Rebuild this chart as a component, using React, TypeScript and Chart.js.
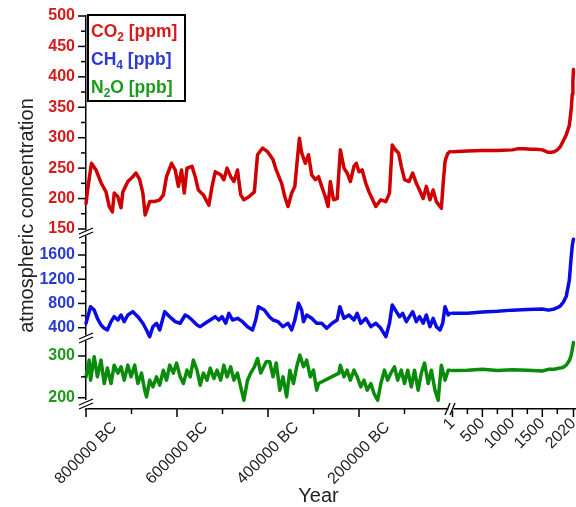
import React, { useEffect, useRef } from "react";
import { Chart, registerables } from "chart.js";

Chart.register(...registerables);

const FONT = "Arial, 'Liberation Sans', Helvetica, sans-serif";
const RED = "#d00000";
const BLUE = "#0a0ae6";
const GREEN = "#0a8c0a";
const RED_TXT = "#d51a1a";
const BLUE_TXT = "#2a3ad6";
const GREEN_TXT = "#1b9a1b";

// ---------- ice-core period (years, negative = BC) ----------
const CO2_ICE_YR = [-800000, -797000, -788000, -778000, -767000, -756000, -749000, -742000, -738000, -730000, -723000, -719000, -708000, -697000, -690000, -682000, -675000, -670000, -660000, -649000, -638000, -630000, -623000, -612000, -604000, -597000, -590000, -584000, -578000, -567000, -560000, -553000, -542000, -530000, -523000, -516000, -504000, -497000, -490000, -482000, -475000, -467000, -460000, -453000, -442000, -430000, -423000, -412000, -401000, -389000, -382000, -370000, -363000, -356000, -348000, -341000, -337000, -331000, -326000, -318000, -311000, -304000, -296000, -289000, -282000, -274000, -268000, -263000, -256000, -248000, -241000, -233000, -226000, -219000, -211000, -206000, -200000, -193000, -185000, -178000, -170000, -163000, -152000, -141000, -133000, -127000, -120000, -113000, -107000, -100000, -90000, -82000, -74000, -67000, -59000, -52000, -44000, -37000, -30000, -19000, -15000, -11000, -9000, -5000, 0];
const CO2_ICE_PPM = [192, 211, 258, 247, 226, 211, 187, 178, 209, 203, 185, 211, 228, 236, 242, 231, 209, 173, 195, 195, 198, 206, 236, 258, 247, 220, 247, 209, 250, 253, 236, 214, 206, 189, 220, 244, 239, 231, 250, 236, 228, 247, 206, 198, 203, 211, 272, 283, 277, 264, 247, 225, 203, 187, 209, 220, 253, 299, 275, 258, 272, 239, 231, 236, 220, 203, 187, 228, 198, 200, 280, 250, 242, 228, 253, 258, 244, 247, 225, 211, 198, 187, 198, 195, 209, 288, 280, 275, 253, 231, 228, 242, 225, 214, 200, 220, 198, 214, 195, 184, 225, 260, 266, 274, 277];

const CH4_ICE_YR = [-800000, -790000, -782000, -775000, -767000, -760000, -753000, -745000, -738000, -730000, -723000, -716000, -708000, -697000, -686000, -675000, -667000, -660000, -653000, -645000, -638000, -627000, -616000, -604000, -593000, -582000, -575000, -567000, -556000, -549000, -538000, -527000, -516000, -508000, -501000, -493000, -486000, -478000, -467000, -456000, -445000, -434000, -427000, -421000, -408000, -397000, -389000, -378000, -367000, -356000, -348000, -341000, -333000, -326000, -322000, -315000, -304000, -293000, -282000, -271000, -259000, -248000, -242000, -233000, -222000, -211000, -204000, -196000, -185000, -174000, -163000, -152000, -141000, -133000, -127000, -118000, -111000, -104000, -96000, -89000, -82000, -74000, -67000, -59000, -52000, -44000, -37000, -30000, -22000, -16000, -11000, -4000, 0];
const CH4_ICE_PPB = [473, 747, 692, 555, 445, 390, 362, 500, 582, 527, 610, 500, 610, 665, 582, 473, 362, 252, 417, 473, 362, 665, 582, 500, 473, 610, 582, 527, 445, 417, 473, 527, 582, 527, 582, 473, 637, 527, 555, 500, 417, 362, 527, 747, 692, 582, 527, 500, 417, 473, 362, 527, 803, 692, 500, 610, 555, 473, 473, 390, 473, 527, 747, 555, 610, 527, 637, 473, 555, 417, 473, 390, 252, 473, 775, 665, 582, 637, 500, 582, 665, 500, 582, 473, 610, 417, 555, 417, 362, 473, 747, 610, 637];

const N2O_ICE_YR = [-800000, -793000, -790000, -782000, -775000, -767000, -760000, -753000, -745000, -738000, -730000, -723000, -716000, -708000, -701000, -693000, -686000, -678000, -671000, -667000, -660000, -653000, -645000, -638000, -630000, -623000, -616000, -608000, -601000, -593000, -586000, -578000, -571000, -564000, -556000, -549000, -542000, -534000, -527000, -519000, -512000, -504000, -497000, -490000, -482000, -475000, -467000, -460000, -453000, -445000, -438000, -430000, -423000, -416000, -404000, -396000, -389000, -382000, -374000, -367000, -359000, -352000, -344000, -337000, -330000, -322000, -315000, -307000, -300000, -293000, -289000, -244000, -241000, -233000, -226000, -219000, -211000, -204000, -196000, -189000, -182000, -174000, -167000, -159000, -152000, -144000, -137000, -130000, -122000, -115000, -107000, -100000, -93000, -85000, -78000, -70000, -63000, -56000, -48000, -41000, -33000, -26000, -19000, -11000, -4000, 0];
const N2O_ICE_PPB = [250, 290, 242, 298, 250, 290, 234, 271, 234, 278, 259, 274, 242, 278, 250, 278, 234, 259, 218, 202, 242, 226, 250, 230, 266, 242, 278, 259, 283, 250, 234, 266, 250, 290, 266, 230, 259, 242, 271, 246, 266, 242, 278, 250, 274, 242, 259, 226, 194, 242, 259, 274, 294, 259, 286, 286, 250, 283, 218, 250, 202, 266, 234, 274, 302, 274, 290, 250, 266, 218, 234, 259, 278, 250, 266, 242, 266, 250, 226, 242, 218, 234, 210, 194, 234, 266, 242, 259, 274, 242, 266, 234, 266, 226, 266, 218, 259, 283, 234, 266, 218, 194, 278, 242, 266, 266];

// ---------- common era (years AD) ----------
const CO2_CE_YR = [1, 250, 500, 750, 1000, 1100, 1200, 1300, 1400, 1500, 1600, 1650, 1700, 1750, 1800, 1850, 1900, 1950, 1980, 2000, 2010, 2019];
const CO2_CE_PPM = [277, 278, 279, 279, 280, 282, 282, 281, 281, 280, 276, 276, 277, 280, 285, 295, 305, 320, 345, 372, 392, 412];
const CH4_CE_YR = [1, 250, 500, 750, 1000, 1250, 1500, 1600, 1700, 1750, 1800, 1850, 1900, 1950, 1980, 2000, 2019];
const CH4_CE_PPB = [640, 640, 660, 670, 690, 700, 710, 690, 710, 730, 760, 820, 920, 1180, 1550, 1760, 1860];
const N2O_CE_YR = [1, 250, 500, 750, 1000, 1250, 1500, 1600, 1700, 1750, 1800, 1850, 1900, 1950, 1980, 2000, 2019];
const N2O_CE_PPB = [265, 266, 268, 265, 267, 266, 264, 268, 268, 270, 271, 273, 278, 289, 301, 316, 332];

// ---------- ticks ----------
const X1_MAJOR = [-800000, -600000, -400000, -200000];
const X1_MINOR = [-700000, -500000, -300000, -100000];
const X1_LABELS = ["800000 BC", "600000 BC", "400000 BC", "200000 BC"];
const X2_MAJOR = [1, 500, 1000, 1500, 2020];
const X2_MINOR = [250, 750, 1250, 1750];
const X2_LABELS = ["1", "500", "1000", "1500", "2020"];
const CO2_TICKS = [150, 200, 250, 300, 350, 400, 450, 500];
const CO2_MINOR = [175, 225, 275, 325, 375, 425, 475];
const CH4_TICKS = [400, 800, 1200, 1600];
const CH4_MINOR = [600, 1000, 1400, 1800];
const N2O_TICKS = [200, 300];
const N2O_MINOR = [250];

const LEGEND = [
  { main: "CO", sub: "2", rest: " [ppm]", color: RED_TXT },
  { main: "CH", sub: "4", rest: " [ppb]", color: BLUE_TXT },
  { main: "N", sub: "2", rest: "O [ppb]", color: GREEN_TXT },
];

const pts = (xs: number[], ys: number[]) => xs.map((x, i) => ({ x, y: ys[i] }));

function line(ctx: CanvasRenderingContext2D, x1: number, y1: number, x2: number, y2: number) {
  ctx.beginPath();
  ctx.moveTo(x1, y1);
  ctx.lineTo(x2, y2);
  ctx.stroke();
}

const decor = {
  id: "decor",
  afterDraw(chart: any) {
    const ctx: CanvasRenderingContext2D = chart.ctx;
    const s = chart.scales;
    const ca = chart.chartArea;
    ctx.save();
    ctx.strokeStyle = "#000";
    ctx.lineWidth = 1.5;
    const yt = (sc: any, maj: number[], min: number[]) => {
      const x = sc.right;
      maj.forEach((v) => { const y = sc.getPixelForValue(v); line(ctx, x - 8, y, x, y); });
      min.forEach((v) => { const y = sc.getPixelForValue(v); line(ctx, x - 5, y, x, y); });
    };
    yt(s.yCO2, CO2_TICKS, CO2_MINOR);
    yt(s.yCH4, CH4_TICKS, CH4_MINOR);
    yt(s.yN2O, N2O_TICKS, N2O_MINOR);
    const xt = (sc: any, maj: number[], min: number[]) => {
      const y = sc.top;
      maj.forEach((v) => { const x = sc.getPixelForValue(v); line(ctx, x, y, x, y + 8); });
      min.forEach((v) => { const x = sc.getPixelForValue(v); line(ctx, x, y, x, y + 5); });
    };
    xt(s.x1, X1_MAJOR, X1_MINOR);
    xt(s.x2, X2_MAJOR, X2_MINOR);

    // axis breaks
    const ax = ca.left;
    const ybreak = (y: number) => {
      ctx.fillStyle = "#fff";
      ctx.fillRect(ax - 2, y - 2.5, 4, 5);
      ctx.lineWidth = 1.3;
      line(ctx, ax - 7, y + 1, ax + 7, y - 5);
      line(ctx, ax - 7, y + 5, ax + 7, y - 1);
    };
    ybreak(s.yCO2.bottom);
    ybreak(s.yCH4.bottom);
    ctx.fillStyle = "#fff";
    ctx.fillRect(ax - 2, ca.bottom - 9, 4, 8.2);
    ybreak(ca.bottom - 5);
    const bx = s.x1.right + 1;
    const by = s.x1.top;
    ctx.fillStyle = "#fff";
    ctx.fillRect(bx - 2.5, by - 2, 5, 4);
    ctx.lineWidth = 1.3;
    line(ctx, bx - 6, by + 6, bx - 1, by - 6);
    line(ctx, bx - 1, by + 6, bx + 4, by - 6);

    // x labels
    ctx.fillStyle = "#222";
    ctx.font = `16px ${FONT}`;
    ctx.textBaseline = "middle";
    X1_MAJOR.forEach((v, i) => {
      const x = s.x1.getPixelForValue(v);
      const w = ctx.measureText(X1_LABELS[i]).width;
      const cy = by + 12 + (w / 2) * 0.7071 + 4;
      ctx.save();
      ctx.translate(x, cy);
      ctx.rotate(-Math.PI / 4);
      ctx.textAlign = "center";
      ctx.fillText(X1_LABELS[i], 0, 0);
      ctx.restore();
    });
    X2_MAJOR.forEach((v, i) => {
      const x = s.x2.getPixelForValue(v);
      ctx.save();
      ctx.translate(x, by + 12);
      ctx.rotate(-Math.PI / 4);
      ctx.textAlign = "right";
      ctx.fillText(X2_LABELS[i], 0, 0);
      ctx.restore();
    });

    // axis titles
    ctx.font = `20px ${FONT}`;
    ctx.textAlign = "center";
    ctx.fillText("Year", (s.x1.left + s.x2.right) / 2 - 12, by + 87);
    ctx.save();
    ctx.translate(27, (ca.top + ca.bottom) / 2 + 3);
    ctx.rotate(-Math.PI / 2);
    ctx.fillText("atmospheric concentration", 0, 0);
    ctx.restore();

    // legend
    const lx = ca.left + 2;
    const ly = ca.top - 1;
    ctx.fillStyle = "#fff";
    ctx.fillRect(lx, ly, 97, 86);
    ctx.strokeStyle = "#000";
    ctx.lineWidth = 2;
    ctx.strokeRect(lx, ly, 97, 86);
    ctx.textAlign = "left";
    ctx.textBaseline = "alphabetic";
    LEGEND.forEach((e, i) => {
      const base = ly + 22 + i * 28;
      let x = lx + 3;
      ctx.fillStyle = e.color;
      ctx.font = `bold 17.5px ${FONT}`;
      ctx.fillText(e.main, x, base);
      x += ctx.measureText(e.main).width;
      ctx.font = `bold 12px ${FONT}`;
      ctx.fillText(e.sub, x, base + 4);
      x += ctx.measureText(e.sub).width;
      ctx.font = `bold 17.5px ${FONT}`;
      ctx.fillText(e.rest, x, base);
    });
    ctx.restore();
  },
};

export default function App() {
  const ref = useRef<HTMLCanvasElement | null>(null);
  useEffect(() => {
    if (!ref.current) return;
    const ds = (label: string, data: any[], color: string, xAxisID: string, yAxisID: string) => ({
      label, data, xAxisID, yAxisID,
      borderColor: color, backgroundColor: color,
      borderWidth: 3.5, pointRadius: 0, tension: 0,
      borderJoinStyle: "round", borderCapStyle: "round", clip: false,
    });
    const xAxis = (weight: number, min: number, max: number) => ({
      type: "linear", position: "bottom", stack: "xs", stackWeight: weight, min, max,
      ticks: { display: false },
      grid: { display: true, drawOnChartArea: false, drawTicks: true, tickLength: 8, color: "rgba(0,0,0,0)", tickColor: "rgba(0,0,0,0)" },
      border: { color: "#000", width: 1.5 },
      afterFit: (sc: any) => { sc.height = 8; },
    });
    const yAxis = (weight: number, min: number, max: number, ticks: number[], color: string) => ({
      type: "linear", position: "left", stack: "ys", stackWeight: weight, min, max,
      ticks: { color, autoSkip: false, font: { family: FONT, size: 16, weight: "bold" }, padding: 3, callback: (v: any) => String(v) },
      grid: { display: true, drawOnChartArea: false, drawTicks: true, tickLength: 8, color: "rgba(0,0,0,0)", tickColor: "rgba(0,0,0,0)" },
      border: { color: "#000", width: 1.5 },
      afterBuildTicks: (sc: any) => { sc.ticks = ticks.map((v) => ({ value: v })); },
      afterFit: (sc: any) => { sc.width = 50; },
    });
    const chart = new Chart(ref.current, {
      type: "line",
      data: {
        datasets: [
          ds("CO2 ice", pts(CO2_ICE_YR, CO2_ICE_PPM), RED, "x1", "yCO2"),
          ds("CO2 CE", pts(CO2_CE_YR, CO2_CE_PPM), RED, "x2", "yCO2"),
          ds("CH4 ice", pts(CH4_ICE_YR, CH4_ICE_PPB), BLUE, "x1", "yCH4"),
          ds("CH4 CE", pts(CH4_CE_YR, CH4_CE_PPB), BLUE, "x2", "yCH4"),
          ds("N2O ice", pts(N2O_ICE_YR, N2O_ICE_PPB), GREEN, "x1", "yN2O"),
          ds("N2O CE", pts(N2O_CE_YR, N2O_CE_PPB), GREEN, "x2", "yN2O"),
        ] as any,
      },
      options: {
        responsive: false,
        animation: false,
        devicePixelRatio: 1,
        layout: { padding: { left: 36, top: 16, right: 1, bottom: 90 } },
        plugins: { legend: { display: false }, tooltip: { enabled: false }, title: { display: false } },
        scales: {
          x1: xAxis(364, -800000, 0),
          x2: xAxis(125, -40, 2045),
          yN2O: yAxis(71, 173, 343, N2O_TICKS, GREEN_TXT),
          yCH4: yAxis(105, 230, 1963, CH4_TICKS, BLUE_TXT),
          yCO2: yAxis(217, 143.4, 500, CO2_TICKS, RED_TXT),
        } as any,
      },
      plugins: [decor],
    });
    return () => chart.destroy();
  }, []);
  return (
    <div style={{ position: "fixed", left: 0, top: 0, width: 576, height: 507, background: "#fff" }}>
      <canvas ref={ref} width={576} height={507} style={{ display: "block" }} />
    </div>
  );
}
